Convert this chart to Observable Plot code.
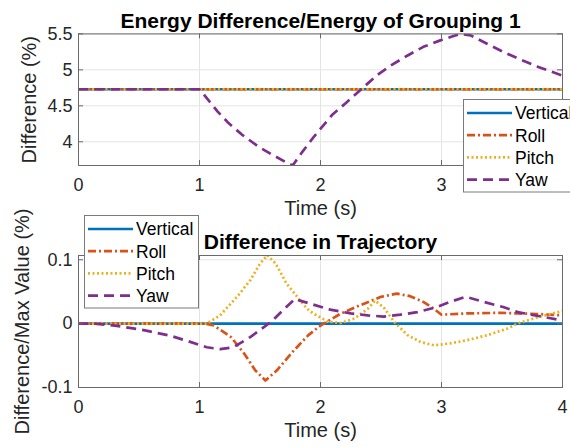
<!DOCTYPE html>
<html><head><meta charset="utf-8">
<script src="https://cdn.jsdelivr.net/npm/d3@7"></script>
<script src="https://cdn.jsdelivr.net/npm/@observablehq/plot@0.6"></script>
<style>
body{margin:0;background:#fff;}
#wrap{position:relative;width:570px;height:447px;overflow:hidden;background:#fff;}
#wrap svg{position:absolute;left:0;top:0;}
</style></head><body><div id="wrap"></div>
<script>
// ---- data ----
const seriesNames = ["Vertical", "Roll", "Pitch", "Yaw"];
const seriesColors = ["#0072BD", "#D95319", "#EDB120", "#7E2F8E"];
const xTicks = [0, 1, 2, 3, 4];
const topYTicks = [4, 4.5, 5, 5.5];
const botYTicks = [-0.1, 0, 0.1];
const topTitle = "Energy Difference/Energy of Grouping 1";
const botTitle = "Difference in Trajectory";
const xLabel = "Time (s)";
const topYLabel = "Difference (%)";
const botYLabel = "Difference/Max Value (%)";

// top panel
const topFlatT = [0, 4];
const topVertical = [4.73, 4.73];
const topRoll = [4.73, 4.73];
const topPitch = [4.73, 4.73];
const topYawT = [0, 1, 1.15, 1.24, 1.35, 1.48, 1.59, 1.72, 1.77, 1.85, 1.95, 2.1, 2.21, 2.33, 2.47, 2.58, 2.72, 2.85, 2.99, 3.1, 3.16, 3.24, 3.38, 3.51, 3.63, 3.8, 4.0];
const topYaw = [4.73, 4.73, 4.42, 4.26, 4.10, 3.94, 3.83, 3.71, 3.67, 3.86, 4.08, 4.38, 4.54, 4.72, 4.93, 5.06, 5.20, 5.32, 5.41, 5.47, 5.50, 5.48, 5.36, 5.25, 5.16, 5.04, 4.92];

// bottom panel
const botVerticalT = [0, 4];
const botVertical = [0, 0];
const botRollT = [0, 1.05, 1.12, 1.26, 1.37, 1.46, 1.545, 1.64, 1.78, 1.9, 2.0, 2.17, 2.33, 2.5, 2.63, 2.74, 2.85, 2.94, 3.0, 3.21, 3.49, 3.63, 3.8, 4.0];
const botRoll = [0, 0, -0.003, -0.021, -0.047, -0.073, -0.089, -0.073, -0.042, -0.018, -0.003, 0.016, 0.029, 0.042, 0.047, 0.043, 0.034, 0.023, 0.014, 0.016, 0.017, 0.016, 0.015, 0.013];
const botPitchT = [0, 1.06, 1.17, 1.31, 1.42, 1.5, 1.56, 1.63, 1.72, 1.82, 1.89, 1.94, 2.06, 2.17, 2.28, 2.39, 2.45, 2.52, 2.61, 2.72, 2.83, 2.94, 3.07, 3.21, 3.38, 3.54, 3.64, 3.8, 4.0];
const botPitch = [0, 0, 0.013, 0.042, 0.068, 0.094, 0.107, 0.094, 0.0625, 0.039, 0.023, 0.016, 0.003, 0.001, 0.008, 0.023, 0.036, 0.026, 0.0025, -0.018, -0.029, -0.034, -0.031, -0.026, -0.018, -0.008, 0.001, 0.01, 0.02];
const botYawT = [0, 0.12, 0.3, 0.55, 0.76, 0.93, 1.06, 1.17, 1.28, 1.42, 1.59, 1.7, 1.79, 1.83, 1.92, 2.08, 2.25, 2.39, 2.52, 2.66, 2.8, 2.96, 3.07, 3.2, 3.35, 3.51, 3.63, 3.8, 4.0];
const botYaw = [0, 0, -0.003, -0.0105, -0.019, -0.029, -0.037, -0.040, -0.037, -0.021, 0.0025, 0.023, 0.039, 0.036, 0.031, 0.022, 0.016, 0.013, 0.011, 0.014, 0.018, 0.026, 0.034, 0.042, 0.034, 0.026, 0.018, 0.012, 0.005];

// ---- helpers ----
const rows = (ts, vs) => ts.map((t, i) => ({t, v: vs[i]}));
const W = 570, H = 447;
const ML = 78, MR = 8;
const frameW = W - ML - MR;
const dashes = [null, "8,3,2,3", "2,2.5", "10,6"];
const LW = 2.7;
const axisColor = "#6a6a6a";
const gridColor = "#e4e4e4";
const font = "'Liberation Sans', Arial, Helvetica, sans-serif";

function panel({top, bottom, yDomain, yTicks, sets, title, yLabel, yLabelDx}) {
  const fh = bottom - top;
  const lineMarks = sets.map((s, i) => Plot.line(s, {
    x: "t", y: "v", stroke: seriesColors[i], strokeWidth: LW,
    strokeDasharray: dashes[i], strokeLinecap: "butt", strokeLinejoin: "round", clip: true
  }));
  return Plot.plot({
    width: W, height: H,
    marginLeft: ML, marginRight: MR, marginTop: top, marginBottom: H - bottom,
    style: {background: "transparent", fontFamily: font, fontSize: "18px", color: "#262626", overflow: "visible"},
    x: {domain: [0, 4], ticks: xTicks, tickSize: 0, tickPadding: 13, tickFormat: d => String(d), label: null},
    y: {domain: yDomain, ticks: yTicks, tickSize: 0, tickPadding: 6, tickFormat: d => String(d), label: null},
    marks: [
      Plot.ruleX(xTicks, {x: d => d, stroke: gridColor}),
      Plot.ruleY(yTicks, {y: d => d, stroke: gridColor}),
      ...lineMarks,
      Plot.frame({stroke: axisColor}),
      Plot.tickX(xTicks, {x: d => d, stroke: axisColor, insetTop: fh - 5}),
      Plot.tickX(xTicks, {x: d => d, stroke: axisColor, insetBottom: fh - 5}),
      Plot.tickY(yTicks, {y: d => d, stroke: axisColor, insetRight: frameW - 5}),
      Plot.tickY(yTicks, {y: d => d, stroke: axisColor, insetLeft: frameW - 5}),
      Plot.text([title], {text: d => d, frameAnchor: "top", lineAnchor: "middle", textAnchor: "middle", dy: -13, fontSize: 21, fontWeight: "bold", fill: "#000"}),
      Plot.text([xLabel], {text: d => d, frameAnchor: "bottom", lineAnchor: "middle", textAnchor: "middle", dy: 43, fontSize: 20, fill: "#262626"}),
      Plot.text([yLabel], {text: d => d, frameAnchor: "left", lineAnchor: "middle", textAnchor: "middle", dx: yLabelDx, rotate: -90, fontSize: 20, fill: "#262626"})
    ]
  });
}

const wrap = document.getElementById("wrap");

const topPlot = panel({
  top: 33.4, bottom: 165, yDomain: [3.67, 5.5], yTicks: topYTicks,
  sets: [rows(topFlatT, topVertical), rows(topFlatT, topRoll), rows(topFlatT, topPitch), rows(topYawT, topYaw)],
  title: topTitle, yLabel: topYLabel, yLabelDx: -49
});
const botPlot = panel({
  top: 255, bottom: 387, yDomain: [-0.1, 0.1067], yTicks: botYTicks,
  sets: [rows(botVerticalT, botVertical), rows(botRollT, botRoll), rows(botPitchT, botPitch), rows(botYawT, botYaw)],
  title: botTitle, yLabel: botYLabel, yLabelDx: -56
});
wrap.appendChild(topPlot);
wrap.appendChild(botPlot);

// ---- legends ----
const leg = d3.create("svg").attr("width", W).attr("height", H).style("overflow", "visible");
function legend(bx, by, bw, bh) {
  const g = leg.append("g");
  g.append("rect").attr("x", bx + 0.5).attr("y", by + 0.5).attr("width", bw).attr("height", bh)
    .attr("fill", "#fff").attr("stroke", "#7a7a7a").attr("stroke-width", 1);
  seriesNames.forEach((name, i) => {
    const y = by + 14 + i * 22.2;
    g.append("line").attr("x1", bx + 4).attr("x2", bx + 49).attr("y1", y).attr("y2", y)
      .attr("stroke", seriesColors[i]).attr("stroke-width", LW)
      .attr("stroke-dasharray", dashes[i]);
    g.append("text").attr("x", bx + 52).attr("y", y).attr("dy", "0.36em")
      .attr("font-family", font).attr("font-size", 17.5).attr("fill", "#000").text(name);
  });
}
legend(463, 99, 140, 92.5);
legend(84, 215, 114, 92.5);
wrap.appendChild(leg.node());
</script></body></html>
